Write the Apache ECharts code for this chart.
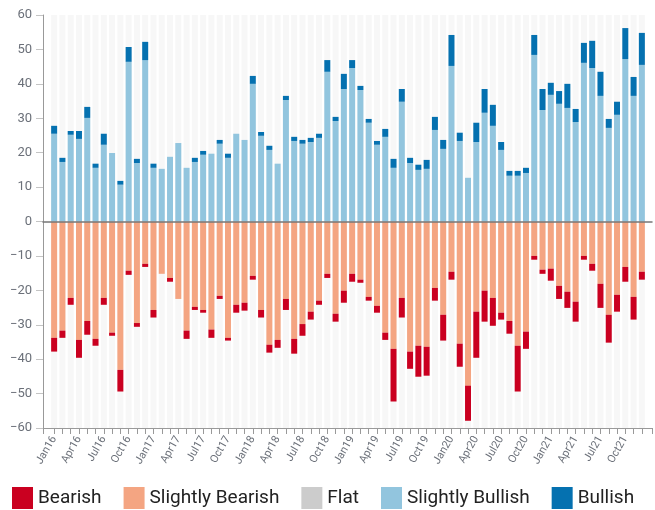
<!DOCTYPE html>
<html>
<head>
<meta charset="utf-8">
<script src="https://cdn.jsdelivr.net/npm/echarts@6/dist/echarts.min.js"></script>
<style>html,body{margin:0;padding:0;background:#fff}#c{width:655px;height:510px}</style>
</head>
<body>
<div id="c"></div>
<script>
const months = ['Jan16','Feb16','Mar16','Apr16','May16','Jun16','Jul16','Aug16','Sep16','Oct16','Nov16','Dec16',
'Jan17','Feb17','Mar17','Apr17','May17','Jun17','Jul17','Aug17','Sep17','Oct17','Nov17','Dec17',
'Jan18','Feb18','Mar18','Apr18','May18','Jun18','Jul18','Aug18','Sep18','Oct18','Nov18','Dec18',
'Jan19','Feb19','Mar19','Apr19','May19','Jun19','Jul19','Aug19','Sep19','Oct19','Nov19','Dec19',
'Jan20','Feb20','Mar20','Apr20','May20','Jun20','Jul20','Aug20','Sep20','Oct20','Nov20','Dec20',
'Jan21','Feb21','Mar21','Apr21','May21','Jun21','Jul21','Aug21','Sep21','Oct21','Nov21','Dec21'];

const slightlyBullish = [25.5,17.3,25.2,24.0,30.1,15.6,22.3,19.9,10.7,46.4,17.0,46.9,
15.6,15.3,18.8,22.8,15.6,17.3,19.4,19.7,22.6,18.5,25.5,23.7,
40.0,24.9,20.8,16.8,35.3,23.4,22.6,23.1,24.3,43.5,29.2,38.5,
44.6,38.2,28.7,22.3,24.6,15.6,34.8,17.0,15.0,15.3,26.6,21.1,
45.2,23.4,12.7,23.1,31.6,27.8,20.8,13.3,13.3,14.1,48.4,32.4,
36.8,34.2,33.0,28.9,46.1,44.6,36.5,27.2,31.0,47.2,36.5,45.5];

const bullish = [2.3,1.2,1.1,2.3,3.2,1.2,3.2,0,1.1,4.3,1.2,5.3,
1.2,0,0,0,0,1.2,1.1,0,1.1,1.2,0,0,
2.3,1.1,1.2,0,1.2,1.2,1.1,1.2,1.2,3.4,1.2,4.4,
2.3,1.2,1.1,1.1,2.3,2.6,3.7,1.5,1.5,2.6,3.8,2.6,
9.0,2.4,0,5.6,6.9,6.1,2.3,1.4,1.4,1.5,5.8,6.1,
3.5,3.7,7.0,3.8,5.8,7.9,7.0,2.6,3.8,9.0,5.5,9.3];

const slightlyBearish = [-33.8,-31.7,-22.2,-34.4,-28.9,-34.1,-22.2,-32.3,-43.1,-14.3,-29.5,-12.3,
-25.7,-15.2,-16.4,-22.5,-31.7,-24.8,-25.7,-31.4,-21.6,-33.8,-24.2,-23.6,
-15.8,-25.7,-35.8,-34.4,-22.5,-34.1,-29.8,-26.2,-23.0,-15.2,-26.8,-20.1,
-15.2,-16.9,-21.9,-24.5,-32.3,-37.0,-22.2,-37.8,-36.1,-36.4,-19.3,-27.1,
-14.6,-35.5,-47.7,-26.2,-20.1,-22.2,-26.5,-28.9,-36.1,-32.0,-10.0,-14.0,
-13.7,-18.7,-20.4,-23.3,-10.0,-12.3,-18.1,-27.1,-21.3,-13.2,-21.9,-14.6];

const bearish = [-4.0,-2.1,-2.0,-5.2,-4.0,-2.0,-2.0,-0.9,-6.3,-1.2,-1.1,-0.9,
-2.2,0,-1.1,0,-2.4,-0.9,-0.8,-2.4,-0.9,-0.8,-2.3,-2.3,
-1.1,-2.2,-2.3,-2.3,-3.2,-4.3,-3.4,-2.3,-1.2,-1.2,-2.3,-3.5,
-2.3,-0.9,-1.1,-2.0,-2.1,-15.3,-5.7,-5.0,-9.0,-8.4,-3.7,-7.5,
-2.3,-6.7,-10.2,-13.4,-9.0,-8.1,-2.0,-3.7,-13.3,-5.0,-1.1,-1.2,
-3.5,-3.8,-4.7,-5.8,-1.1,-2.0,-7.0,-8.1,-4.9,-4.3,-6.6,-2.3];

const flat = [];

const legendNames = ['Bearish','Slightly Bearish','Flat','Slightly Bullish','Bullish'];
const xTickLabelStep = 3;

// axis geometry: bars grid (left 50, right 9) vs axes grid (left 43, right 3)
const nCat = months.length;
const step = (655 - 50 - 9) / nCat;
const c0 = 50 + step / 2;
const c1 = 50 + step * (nCat - 0.5);
const xMin = (43 - c0) / step;
const xMax = (nCat - 1) + (652 - c1) / step;
const tickVals = [xMin].concat(months.map((m, i) => i)).concat([xMax]);
const labelVals = months.map((m, i) => i).filter(i => i % xTickLabelStep === 0);

const fmtNum = v => (v < 0 ? '\u2212' + Math.abs(v) : String(v));
const labelColor = '#6b7079';

const chart = echarts.init(document.getElementById('c'), null, {renderer: 'canvas'});
const option = {
  animation: false,
  textStyle: {fontFamily: 'Roboto'},
  legend: {
    data: legendNames,
    left: 12, top: 487, padding: 0,
    icon: 'rect', itemWidth: 21, itemHeight: 22, itemGap: 22,
    textStyle: {fontSize: 19, color: '#222', fontFamily: 'Roboto'},
    selectedMode: false
  },
  grid: [
    {left: 50, right: 9, top: 15, bottom: 82},
    {left: 43, right: 3, top: 15, bottom: 82}
  ],
  xAxis: [
    {type: 'category', gridIndex: 0, data: months, show: false},
    {
      type: 'value', gridIndex: 1, min: xMin, max: xMax, position: 'bottom',
      axisLine: {show: true, onZero: false, lineStyle: {color: '#999'}},
      axisTick: {show: true, length: 6, customValues: tickVals, lineStyle: {color: '#999'}},
      axisLabel: {
        customValues: labelVals, rotate: 60, fontSize: 11, color: labelColor, margin: 9,
        formatter: v => months[Math.round(v)] || ''
      },
      splitLine: {show: false}
    },
    {
      type: 'value', gridIndex: 1, min: xMin, max: xMax, position: 'top', z: 10,
      axisLine: {show: true, onZero: true, lineStyle: {color: '#777', width: 1.5}},
      axisTick: {show: false}, axisLabel: {show: false}, splitLine: {show: false}
    }
  ],
  yAxis: [
    {type: 'value', gridIndex: 0, min: -60, max: 60, interval: 10, show: false},
    {
      type: 'value', gridIndex: 1, min: -60, max: 60, interval: 10,
      axisLine: {show: true, onZero: false, lineStyle: {color: '#999'}},
      axisTick: {show: true, length: 7, lineStyle: {color: '#c4c4c4'}},
      axisLabel: {fontSize: 13, color: labelColor, margin: 11, formatter: fmtNum},
      splitLine: {show: false}
    }
  ],
  series: [
    {name: 'Slightly Bearish', type: 'bar', stack: 's', data: slightlyBearish, barWidth: 6,
     itemStyle: {color: '#f4a582'}, showBackground: true, backgroundStyle: {color: '#f7f7f7'}},
    {name: 'Bearish', type: 'bar', stack: 's', data: bearish, barWidth: 6, itemStyle: {color: '#ca0020'}},
    {name: 'Slightly Bullish', type: 'bar', stack: 's', data: slightlyBullish, barWidth: 6, itemStyle: {color: '#92c5de'}},
    {name: 'Bullish', type: 'bar', stack: 's', data: bullish, barWidth: 6, itemStyle: {color: '#0571b0'}},
    {name: 'Flat', type: 'bar', stack: 's', data: flat, barWidth: 6, itemStyle: {color: '#cccccc'}}
  ]
};
chart.setOption(option);
</script>
</body>
</html>
